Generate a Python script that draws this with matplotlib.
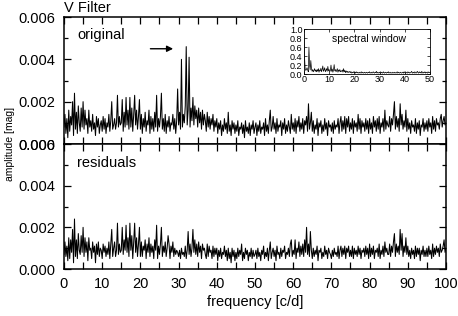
import numpy as np
import matplotlib.pyplot as plt
from matplotlib.ticker import MultipleLocator

plt.rcParams['font.family'] = ['Liberation Sans', 'DejaVu Sans']

# amplitude spectra, sampled every 0.25 c/d from 0 to 100 (units: 1e-4 mag)
STEP = 0.25
original = [
    8, 14, 5, 12, 3, 16, 6, 13, 9, 20, 4, 24, 7, 15, 5, 18, 10, 6, 17, 8,
    20, 7, 16, 9, 12, 5, 16, 8, 11, 6, 14, 7, 10, 4, 13, 8, 12, 5, 9, 11,
    6, 13, 7, 12, 5, 10, 8, 14, 6, 11, 20, 7, 9, 12, 7, 10, 23, 8, 13, 9,
    10, 21, 6, 15, 8, 22, 9, 16, 7, 22, 8, 17, 6, 14, 23, 9, 16, 7, 13, 21,
    7, 14, 5, 12, 8, 15, 6, 11, 9, 16, 5, 13, 7, 12, 6, 15, 8, 23, 6, 12,
    8, 13, 24, 7, 12, 6, 14, 5, 11, 8, 13, 6, 10, 9, 14, 7, 12, 5, 11, 26,
    9, 15, 7, 40, 8, 14, 10, 18, 46, 9, 16, 41, 8, 17, 11, 22, 9, 18, 12, 16,
    8, 17, 10, 15, 7, 16, 9, 14, 11, 6, 15, 8, 13, 7, 12, 9, 14, 6, 11, 8,
    12, 5, 10, 7, 11, 4, 9, 6, 12, 7, 10, 5, 15, 6, 9, 4, 11, 7, 10, 5,
    9, 6, 11, 4, 8, 7, 10, 5, 9, 3, 11, 6, 8, 5, 10, 4, 9, 7, 11, 5,
    8, 10, 4, 9, 6, 11, 5, 8, 7, 10, 4, 12, 6, 9, 5, 11, 16, 6, 8, 13,
    7, 10, 5, 12, 6, 9, 8, 11, 4, 10, 7, 12, 5, 9, 6, 11, 8, 5, 14, 7,
    10, 6, 12, 5, 11, 8, 13, 6, 10, 7, 12, 5, 11, 9, 13, 6, 19, 7, 10, 15,
    6, 11, 5, 9, 7, 12, 4, 10, 8, 11, 5, 9, 6, 12, 7, 10, 4, 11, 8, 9,
    6, 10, 5, 11, 7, 9, 8, 12, 5, 10, 13, 6, 11, 7, 13, 5, 12, 8, 13, 6,
    10, 7, 12, 5, 11, 8, 10, 6, 14, 7, 12, 5, 11, 8, 10, 6, 12, 7, 11, 5,
    12, 7, 10, 5, 13, 8, 11, 6, 12, 7, 13, 5, 10, 8, 12, 6, 16, 7, 11, 9,
    8, 13, 6, 12, 9, 14, 20, 7, 13, 8, 12, 6, 19, 9, 14, 7, 11, 8, 16, 6,
    12, 7, 10, 5, 11, 8, 9, 6, 12, 5, 10, 7, 11, 4, 9, 8, 12, 6, 10, 7,
    11, 6, 12, 8, 10, 5, 13, 7, 11, 6, 12, 9, 10, 7, 12, 14, 8, 11, 13, 9,
    10]
residuals = [
    7, 13, 6, 11, 4, 15, 5, 14, 8, 19, 3, 24, 6, 14, 5, 17, 9, 7, 16, 8,
    20, 6, 15, 8, 13, 4, 15, 9, 10, 5, 13, 8, 11, 3, 12, 7, 13, 6, 10, 9,
    5, 12, 8, 11, 6, 10, 7, 13, 5, 12, 19, 6, 10, 13, 6, 9, 22, 7, 12, 8,
    9, 20, 7, 14, 9, 21, 8, 15, 6, 22, 9, 16, 5, 13, 22, 8, 15, 6, 12, 20,
    6, 13, 6, 11, 9, 14, 5, 12, 8, 15, 6, 12, 8, 11, 5, 14, 9, 21, 5, 11,
    7, 12, 20, 6, 11, 8, 13, 6, 10, 16, 12, 5, 11, 8, 13, 6, 10, 7, 9, 8,
    6, 9, 5, 10, 7, 8, 6, 11, 5, 9, 18, 7, 12, 6, 10, 19, 8, 14, 7, 12,
    6, 13, 8, 11, 5, 12, 9, 10, 7, 5, 12, 6, 11, 8, 9, 5, 11, 6, 10, 7,
    10, 4, 9, 6, 10, 5, 8, 7, 11, 6, 9, 4, 10, 5, 8, 3, 10, 6, 9, 4,
    8, 5, 10, 6, 9, 7, 12, 4, 8, 5, 10, 7, 9, 4, 8, 6, 10, 5, 9, 6,
    7, 9, 5, 10, 6, 8, 4, 9, 7, 11, 5, 8, 6, 10, 4, 9, 13, 5, 8, 10,
    6, 9, 4, 11, 7, 8, 5, 10, 6, 9, 8, 11, 5, 8, 7, 10, 6, 12, 14, 6,
    9, 7, 14, 5, 10, 8, 13, 6, 11, 7, 12, 6, 14, 8, 20, 7, 12, 6, 18, 9,
    5, 10, 6, 9, 7, 11, 4, 9, 8, 10, 5, 8, 6, 11, 7, 9, 5, 10, 8, 7,
    5, 9, 6, 10, 7, 8, 6, 11, 5, 9, 11, 6, 10, 7, 11, 5, 10, 8, 11, 6,
    9, 6, 11, 5, 10, 7, 9, 6, 11, 7, 10, 5, 9, 8, 10, 6, 11, 7, 10, 5,
    12, 6, 10, 7, 11, 5, 9, 8, 10, 6, 12, 5, 9, 7, 11, 6, 13, 8, 10, 7,
    7, 12, 6, 11, 8, 13, 17, 6, 12, 8, 11, 7, 19, 9, 17, 6, 11, 8, 15, 7,
    11, 6, 9, 5, 10, 7, 9, 5, 11, 6, 10, 7, 10, 4, 9, 7, 11, 6, 9, 6,
    10, 6, 11, 7, 9, 5, 12, 6, 10, 7, 11, 8, 10, 6, 12, 8, 9, 11, 14, 8,
    10]

# spectral window, every 0.25 c/d from 0 to 50 (units: 1e-2)
window = [
    88, 40, 12, 8, 10, 14, 9, 5, 60, 20, 9, 30, 12, 6, 10, 5, 8, 12, 6, 9,
    5, 10, 6, 12, 4, 9, 7, 13, 5, 10, 18, 6, 9, 14, 5, 8, 12, 6, 17, 7,
    10, 5, 8, 20, 6, 11, 4, 9, 21, 7, 10, 5, 8, 12, 4, 9, 6, 10, 5, 7,
    6, 9, 4, 12, 5, 8, 3, 7, 4, 6, 3, 5, 4, 6, 3, 5, 2, 4, 3, 5,
    3, 4, 2, 5, 3, 4, 2, 3, 4, 2, 3, 5, 2, 4, 3, 2, 4, 3, 2, 4,
    3, 2, 4, 3, 5, 2, 3, 4, 2, 3, 5, 3, 2, 4, 3, 6, 2, 4, 3, 2,
    4, 3, 2, 4, 3, 2, 5, 3, 2, 4, 3, 2, 4, 3, 5, 2, 3, 4, 2, 3,
    2, 4, 3, 2, 4, 3, 2, 3, 5, 2, 4, 3, 2, 4, 3, 2, 3, 4, 2, 5,
    3, 2, 4, 3, 2, 5, 3, 4, 2, 3, 4, 6, 2, 3, 4, 2, 5, 3, 2, 4,
    6, 3, 2, 5, 3, 4, 2, 6, 3, 2, 4, 3, 5, 2, 4, 3, 2, 5, 3, 4,
    3]

orig = np.array(original) * 1e-4
res = np.array(residuals) * 1e-4
win = np.array(window) * 1e-2
f_orig = np.arange(len(orig)) * STEP
f_res = np.arange(len(res)) * STEP
f_win = np.arange(len(win)) * STEP


def style(ax, labels):
    ax.set_xlim(0, 100)
    ax.set_ylim(0, 0.006)
    ax.xaxis.set_major_locator(MultipleLocator(10))
    ax.xaxis.set_minor_locator(MultipleLocator(5))
    ax.yaxis.set_major_locator(MultipleLocator(0.002))
    ax.yaxis.set_minor_locator(MultipleLocator(0.001))
    ax.tick_params(which='both', direction='in', top=True, right=True,
                   width=0.9, labelsize=10.5, pad=6)
    ax.tick_params(which='major', length=5)
    ax.tick_params(axis='y', which='minor', length=3)
    ax.tick_params(axis='x', which='minor', length=5)
    ax.yaxis.set_major_formatter(plt.FormatStrFormatter('%.3f'))
    if not labels:
        ax.tick_params(axis='x', labelbottom=False)
    for s in ax.spines.values():
        s.set_linewidth(1.1)


fig = plt.figure(figsize=(4.58, 3.16), dpi=100)
ax1 = fig.add_axes([0.1397, 0.5443, 0.8341, 0.4019])
ax2 = fig.add_axes([0.1397, 0.1487, 0.8341, 0.3956])

ax1.plot(f_orig, orig, color='black', lw=0.75)
ax2.plot(f_res, res, color='black', lw=0.75)
style(ax1, False)
style(ax2, True)

ax1.text(0.035, 0.86, 'original', transform=ax1.transAxes, fontsize=10.5, va='center')
ax2.text(0.035, 0.85, 'residuals', transform=ax2.transAxes, fontsize=10.5, va='center')
ax1.annotate('', xy=(29.3, 0.0045), xytext=(21.9, 0.0045),
             arrowprops=dict(arrowstyle='-|>', color='black', lw=1, mutation_scale=9))

fig.text(0.1397, 0.975, 'V Filter', fontsize=10.5, va='center', ha='left')
fig.text(0.022, 0.545, 'amplitude [mag]', rotation=90, fontsize=7.5, va='center', ha='center')
fig.text(0.5567, 0.045, 'frequency [c/d]', fontsize=10.5, va='center', ha='center')

# inset: spectral window
axi = ax1.inset_axes([0.628, 0.551, 0.33, 0.354])
axi.plot(f_win, win, color='black', lw=0.5)
axi.set_xlim(0, 50)
axi.set_ylim(0, 1.0)
axi.xaxis.set_major_locator(MultipleLocator(10))
axi.yaxis.set_major_locator(MultipleLocator(0.2))
axi.yaxis.set_major_formatter(plt.FormatStrFormatter('%.1f'))
axi.tick_params(direction='in', top=True, right=True, length=2, width=0.5,
                labelsize=6.5, pad=1)
for s in axi.spines.values():
    s.set_linewidth(0.6)
axi.text(0.52, 0.78, 'spectral window', transform=axi.transAxes, fontsize=7.5,
         ha='center', va='center')

fig.savefig('out.png', dpi=100)
